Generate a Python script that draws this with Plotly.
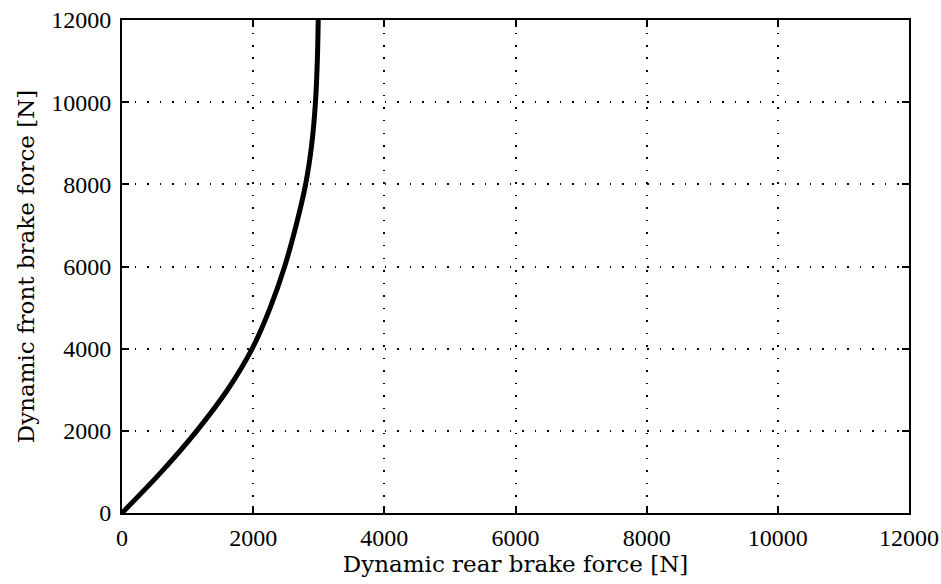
import plotly.graph_objects as go

# Data
front_force = [0, 1000, 2000, 3000, 4000, 5000, 6000, 7000, 8000, 9000, 10000, 11000, 12000]
rear_force = [0, 600, 1140, 1610, 1985, 2260, 2480, 2655, 2800, 2895, 2950, 2978, 2992]

tick_vals = [0, 2000, 4000, 6000, 8000, 10000, 12000]
tick_text = ["0", "2000", "4000", "6000", "8000", "10000", "12000"]

SERIF = "'Liberation Serif', 'Times New Roman', Times, serif"
LABEL_FONT = "'DejaVu Serif', 'Liberation Serif', serif"

fig = go.Figure()
fig.add_trace(go.Scatter(
    x=rear_force, y=front_force, mode="lines",
    line=dict(color="black", width=5, shape="spline", smoothing=1.0),
    showlegend=False, hoverinfo="skip",
))

axis_common = dict(
    range=[0, 12000],
    tickmode="array",
    tickvals=tick_vals,
    ticktext=tick_text,
    showline=True, linecolor="black", linewidth=2, mirror="ticks",
    ticks="inside", ticklen=7, tickwidth=1.5, tickcolor="black",
    showgrid=True, gridcolor="black", gridwidth=1.5, griddash="1.5px,11px",
    zeroline=False, automargin=False, ticklabeloverflow="allow",
    tickfont=dict(family=SERIF, size=24, color="black"),
)

fig.update_layout(
    width=941, height=584,
    margin=dict(l=122, r=32, t=20, b=71),
    paper_bgcolor="white", plot_bgcolor="white",
    xaxis=dict(**axis_common,
               title=dict(text="Dynamic rear brake force [N]",
                          font=dict(family=LABEL_FONT, size=23, color="black"),
                          standoff=2),
               ticklabelstandoff=2),
    yaxis=dict(**axis_common,
               title=dict(text="Dynamic front brake force [N]",
                          font=dict(family=LABEL_FONT, size=23, color="black"),
                          standoff=10),
               ticklabelstandoff=4),
)

fig.write_html(
    "out.html",
    config={"displayModeBar": False},
    post_script="document.body.style.margin='0';document.body.style.overflow='hidden';",
)
